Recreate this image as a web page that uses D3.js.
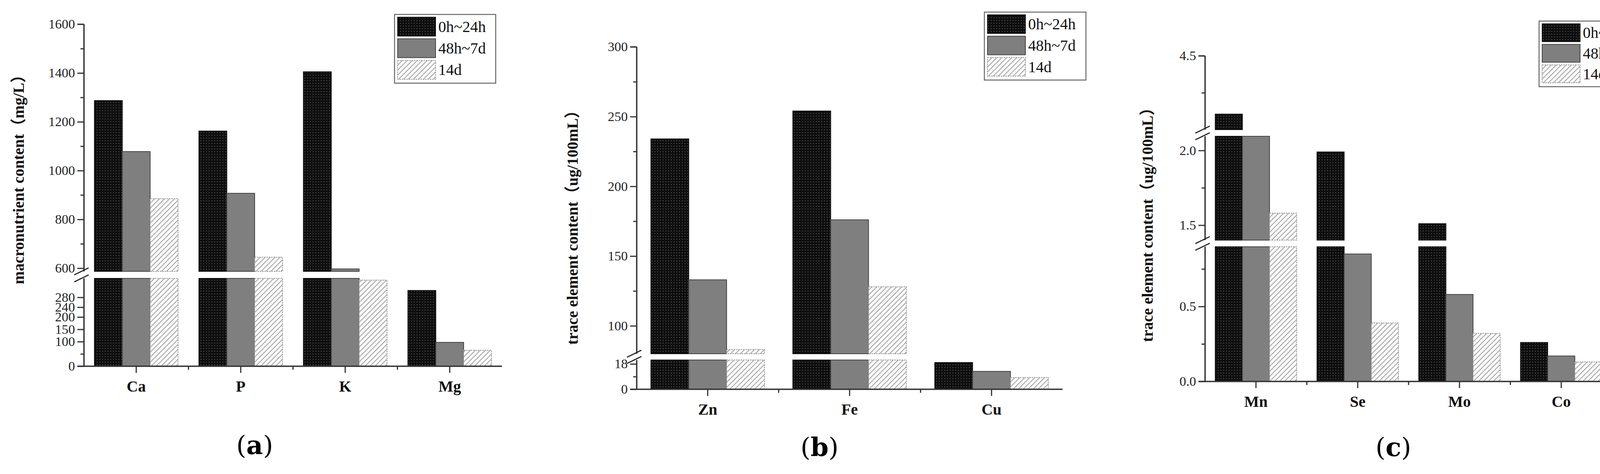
<!DOCTYPE html>
<html><head><meta charset="utf-8">
<script src="https://cdn.jsdelivr.net/npm/d3@7"></script>
<style>html,body{margin:0;padding:0;background:#fff;overflow:hidden}svg{display:block}</style>
</head><body><svg id="c" width="4220" height="1214" viewBox="0 0 4220 1214"></svg>
<script>
const seriesNames = ["0h~24h", "48h~7d", "14d"];
// panel a
const catsA = ["Ca", "P", "K", "Mg"];
const a0 = [1287, 1162, 1405, 308];
const a1 = [1078, 907, 597, 97];
const a2 = [885, 645, 350, 65];
// panel b
const catsB = ["Zn", "Fe", "Cu"];
const b0 = [234, 254, 19];
const b1 = [133, 176, 12.7];
const b2 = [83, 128, 8.3];
// panel c
const catsC = ["Mn", "Se", "Mo", "Co"];
const c0 = [3.71, 1.99, 1.51, 0.26];
const c1 = [2.1, 0.85, 0.58, 0.17];
const c2 = [1.58, 0.39, 0.32, 0.13];
// tick labels
const ticksA = [[0,100,150,200,240,280],[600,800,1000,1200,1400,1600]];
const minorA = [[50],[700,900,1100,1300,1500]];
const ticksB = [[0,18],[100,150,200,250,300]];
const minorB = [[9],[125,175,225,275]];
const ticksC = [[0,0.5],[1.5,2.0],[4.5]];
const minorC = [[0.25,0.75],[1.75],[4.0]];

const svg = d3.select("#c");
const defs = svg.append("defs");
const pd = defs.append("pattern").attr("id","dots").attr("patternUnits","userSpaceOnUse").attr("width",7).attr("height",7);
pd.append("rect").attr("width",7).attr("height",7).attr("fill","#0d0d0d");
pd.append("circle").attr("cx",3.5).attr("cy",3.5).attr("r",1.3).attr("fill","#555");
const ph = defs.append("pattern").attr("id","hatch").attr("patternUnits","userSpaceOnUse").attr("width",9).attr("height",9).attr("patternTransform","rotate(45)");
ph.append("rect").attr("width",9).attr("height",9).attr("fill","#fafafa");
ph.append("line").attr("x1",0).attr("y1",0).attr("x2",0).attr("y2",9).attr("stroke","#8a8a8a").attr("stroke-width",3.2);
const fills = ["url(#dots)", "#7f7f7f", "url(#hatch)"];
const strokes = ["#111", "#444", "#999"];
const dashes = [null, null, "4,2"];
const FONT = "'Liberation Serif','Times New Roman',serif";

function panel(cfg){
  const g = svg.append("g");
  const x = d3.scaleBand().domain(cfg.cats).range([cfg.x0, cfg.x1]).paddingInner(0.2).paddingOuter(0.1);
  const xs = d3.scaleBand().domain([0,1,2]).range([0, x.bandwidth()]);
  const segs = cfg.segs.map(s => ({...s, y: d3.scaleLinear().domain(s.domain).range(s.range)}));
  segs.forEach(s=>{
    cfg.series.forEach((vals,si)=>{
      g.selectAll(null).data(cfg.cats.map((c,i)=>({c,v:vals[i]})).filter(d=>d.v>s.domain[0])).enter()
        .append("rect")
        .attr("x", d=>x(d.c)+xs(si))
        .attr("width", xs.bandwidth())
        .attr("y", d=>s.y(Math.min(d.v, s.domain[1])))
        .attr("height", d=>s.y(s.domain[0]) - s.y(Math.min(d.v, s.domain[1])))
        .attr("fill", fills[si]).attr("stroke", strokes[si]).attr("stroke-width",2)
        .attr("stroke-dasharray", dashes[si]);
    });
  });
  for(let i=0;i<segs.length-1;i++){
    const yb = segs[i].range[1], yt = segs[i+1].range[0];
    g.append("rect").attr("x", cfg.x0+2).attr("y", yt+1.5).attr("width", cfg.x1-cfg.x0).attr("height", yb-yt-3).attr("fill","#fff");
  }
  segs.forEach((s,i)=>{
    const ax = g.append("g").attr("transform",`translate(${cfg.x0},0)`)
      .call(d3.axisLeft(s.y).tickValues(s.ticks).tickSize(17).tickPadding(6).tickFormat(cfg.fmt));
    ax.select(".domain").remove();
    ax.selectAll("line").attr("stroke","#333").attr("stroke-width",3);
    ax.selectAll("text").attr("font-family",FONT).attr("font-size",cfg.tfs||34).attr("fill","#222");
    const mn = g.append("g").attr("transform",`translate(${cfg.x0},0)`)
      .call(d3.axisLeft(s.y).tickValues(s.minor).tickSize(9).tickFormat(""));
    mn.select(".domain").remove();
    mn.selectAll("line").attr("stroke","#333").attr("stroke-width",3);
    const ytop = (i===segs.length-1)? s.y(s.domain[1]) : s.range[1];
    g.append("line").attr("x1",cfg.x0).attr("x2",cfg.x0).attr("y1",s.range[0]).attr("y2",ytop).attr("stroke","#333").attr("stroke-width",3.5);
    if(i===segs.length-1) g.append("line").attr("x1",cfg.x0-17).attr("x2",cfg.x0).attr("y1",ytop).attr("y2",ytop).attr("stroke","#333").attr("stroke-width",3);
  });
  for(let i=0;i<segs.length-1;i++){
    const yb = segs[i].range[1], yt = segs[i+1].range[0];
    [yb, yt].forEach(yy=>g.append("line").attr("x1",cfg.x0-25).attr("y1",yy+9).attr("x2",cfg.x0+12).attr("y2",yy-9).attr("stroke","#222").attr("stroke-width",3));
  }
  const y0 = segs[0].range[0];
  g.append("line").attr("x1",cfg.x0-17).attr("x2",cfg.x1).attr("y1",y0).attr("y2",y0).attr("stroke","#333").attr("stroke-width",3.5);
  const xa = g.append("g").attr("transform",`translate(0,${y0})`).call(d3.axisBottom(x).tickSize(17).tickPadding(20));
  xa.select(".domain").remove();
  xa.selectAll("line").attr("stroke","#333").attr("stroke-width",3);
  xa.selectAll("text").attr("font-family",FONT).attr("font-size",40).attr("font-weight","bold").attr("fill","#111");
  const mids = cfg.cats.slice(1).map((c,i)=> (x(cfg.cats[i])+x(c))/2 + x.bandwidth()/2);
  g.selectAll(null).data(mids).enter().append("line").attr("x1",d=>d).attr("x2",d=>d).attr("y1",y0).attr("y2",y0+9).attr("stroke","#333").attr("stroke-width",3);
  g.append("text").attr("transform",`translate(${cfg.tx},${cfg.ty}) rotate(-90)`).attr("text-anchor","middle")
    .attr("dominant-baseline","middle")
    .attr("font-family",FONT+",'Noto Sans CJK SC'").attr("font-weight","bold").attr("font-size",40).attr("fill","#111").text(cfg.title);
  const L = cfg.leg;
  g.append("rect").attr("x",L[0]).attr("y",L[1]).attr("width",L[2]-L[0]).attr("height",L[3]-L[1]).attr("fill","#fff").attr("stroke","#666").attr("stroke-width",2.5);
  const rh = (L[3]-L[1]-10)/3;
  seriesNames.forEach((n,i)=>{
    g.append("rect").attr("x",L[0]+8).attr("y",L[1]+7+i*rh).attr("width",97).attr("height",rh-7)
      .attr("fill",fills[i]).attr("stroke",strokes[i]).attr("stroke-width",2).attr("stroke-dasharray",dashes[i]);
    g.append("text").attr("x",L[0]+112).attr("y",L[1]+7+i*rh+(rh-7)/2).attr("dominant-baseline","central")
      .attr("font-family",FONT).attr("font-size",40).attr("fill","#111").text(n);
  });
  const t = g.append("text").attr("x",cfg.lab[0]).attr("y",cfg.lab[1]).attr("text-anchor","middle").attr("dominant-baseline","central")
    .attr("font-family","'DejaVu Serif','Liberation Serif',serif").attr("font-size",66).attr("fill","#000");
  t.append("tspan").text("(");
  t.append("tspan").attr("font-weight","bold").text(cfg.letter);
  t.append("tspan").text(")");
}

panel({cats:catsA, series:[a0,a1,a2], x0:215, x1:1285,
  segs:[{domain:[0,357], range:[938,713], ticks:ticksA[0], minor:minorA[0]},
        {domain:[587,1600], range:[695,62], ticks:ticksA[1], minor:minorA[1]}],
  fmt:d3.format("d"), title:"macronutrient content（mg/L）", tx:52, ty:450,
  leg:[1010,37,1269,213], lab:[652,1140], letter:"a"});

panel({cats:catsB, series:[b0,b1,b2], x0:1630, x1:2720,
  segs:[{domain:[0,20.8], range:[997,922], ticks:ticksB[0], minor:minorB[0]},
        {domain:[80,300], range:[906,120], ticks:ticksB[1], minor:minorB[1]}],
  fmt:d3.format("d"), title:"trace element content（ug/100mL）", tx:1470, ty:573,
  leg:[2520,31,2780,205], lab:[2098,1145], letter:"b"});

panel({cats:catsC, series:[c0,c1,c2], x0:3085, x1:4127,
  segs:[{domain:[0,0.898], range:[977,632], ticks:ticksC[0], minor:minorC[0]},
        {domain:[1.4,2.095], range:[615,349], ticks:ticksC[1], minor:minorC[1]},
        {domain:[3.5,4.5], range:[332,143], ticks:ticksC[2], minor:minorC[2]}],
  fmt:d3.format(".1f"), title:"trace element content（ug/100mL）", tx:2942, ty:566,
  leg:[3940,54,4193,222], lab:[3567,1145], letter:"c"});
</script></body></html>
